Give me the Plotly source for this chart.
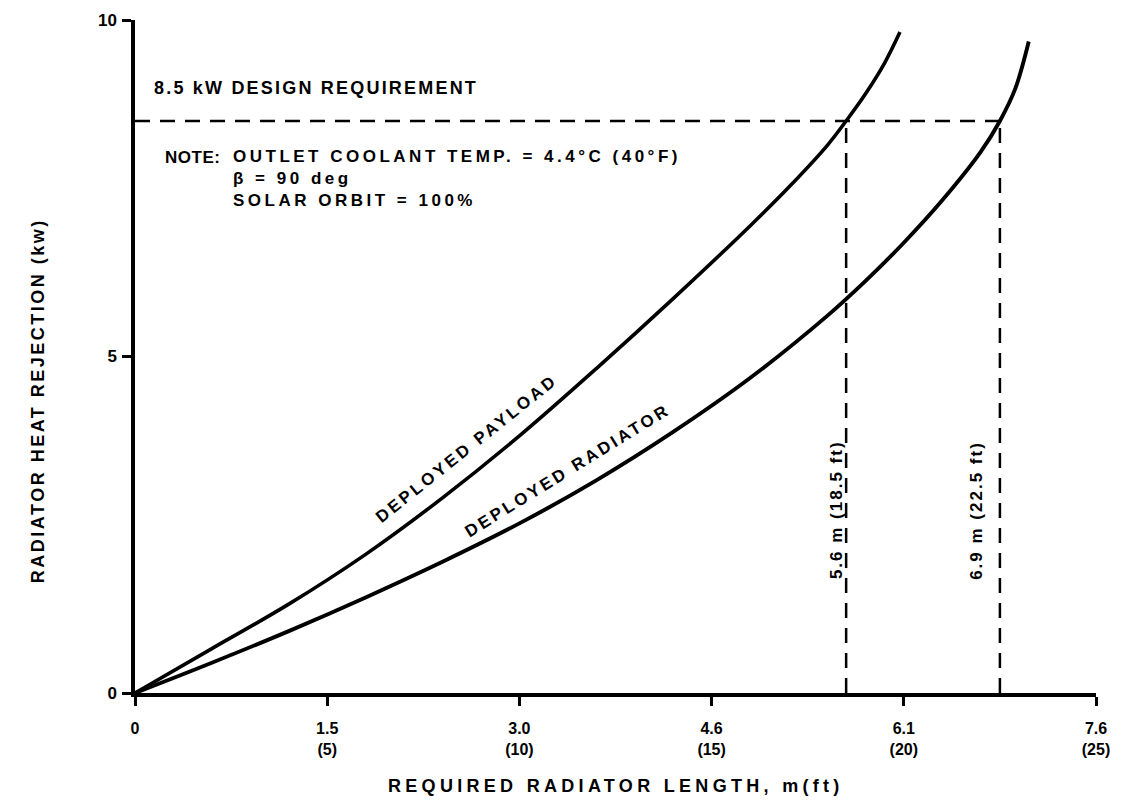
import plotly.graph_objects as go

# Radiator length in feet (axis is labelled in metres with feet in parentheses)
payload_len_ft = [0, 2, 4, 6, 8, 10, 12, 14, 16, 17, 18, 18.5, 19, 19.5, 19.9]
payload_kw = [0, 0.66, 1.32, 2.06, 2.90, 3.82, 4.82, 5.86, 6.94, 7.51, 8.13, 8.50, 8.90, 9.36, 9.82]

radiator_len_ft = [0, 2, 4, 6, 8, 10, 12, 14, 16, 18, 19, 20, 21, 22, 22.5, 22.9, 23.25]
radiator_kw = [0, 0.45, 0.92, 1.42, 1.95, 2.52, 3.16, 3.88, 4.68, 5.60, 6.12, 6.69, 7.32, 8.04, 8.50, 8.98, 9.68]

design_kw = 8.5
payload_req_ft = 18.5
radiator_req_ft = 22.5

x_tick_ft = [0, 5, 10, 15, 20, 25]
x_tick_m = ["0", "1.5", "3.0", "4.6", "6.1", "7.6"]
y_ticks = [0, 5, 10]

FONT = "Liberation Sans, Arial, Helvetica, sans-serif"


def spaced(text, px=3):
    return f'<span style="letter-spacing:{px}px">{text}</span>'


def bold_font(size):
    return dict(family=FONT, size=size, color="black", weight="bold")


x_tick_text = [x_tick_m[0]] + [f"{m}<br>({ft})" for m, ft in zip(x_tick_m[1:], x_tick_ft[1:])]

fig = go.Figure()

dash = "15px,10px"
fig.add_trace(go.Scatter(x=[0, radiator_req_ft], y=[design_kw, design_kw], mode="lines",
                         line=dict(color="black", width=2.5, dash=dash), hoverinfo="skip"))
fig.add_trace(go.Scatter(x=[payload_req_ft, payload_req_ft], y=[0, design_kw], mode="lines",
                         line=dict(color="black", width=2.5, dash=dash), hoverinfo="skip"))
fig.add_trace(go.Scatter(x=[radiator_req_ft, radiator_req_ft], y=[0, design_kw], mode="lines",
                         line=dict(color="black", width=2.5, dash=dash), hoverinfo="skip"))

fig.add_trace(go.Scatter(x=payload_len_ft, y=payload_kw, mode="lines", name="DEPLOYED PAYLOAD",
                         line=dict(color="black", width=3.6, shape="spline", smoothing=1.0)))
fig.add_trace(go.Scatter(x=radiator_len_ft, y=radiator_kw, mode="lines", name="DEPLOYED RADIATOR",
                         line=dict(color="black", width=3.9, shape="spline", smoothing=1.0)))

annotations = [
    dict(x=0.44, y=design_kw, yshift=33, xanchor="left", yanchor="middle",
         text=spaced(f"{design_kw} kW DESIGN REQUIREMENT", 2.2), font=bold_font(18)),
    dict(x=0.73, y=7.96, xanchor="left", yanchor="middle",
         text=spaced("NOTE:", 0.5), font=bold_font(17)),
    dict(x=2.5, y=7.96, xanchor="left", yanchor="top", yshift=12, align="left",
         text=spaced("OUTLET COOLANT TEMP. = 4.4°C (40°F)", 3.5) + "<br>"
         + spaced("β = 90 deg", 3.5) + "<br>" + spaced("SOLAR ORBIT = 100%", 3.5),
         font=bold_font(17)),
    dict(x=8.63, y=3.64, textangle=-38.5, xanchor="center", yanchor="middle",
         text=spaced("DEPLOYED PAYLOAD", 3), font=bold_font(17)),
    dict(x=11.26, y=3.30, textangle=-31.7, xanchor="center", yanchor="middle",
         text=spaced("DEPLOYED RADIATOR", 3), font=bold_font(17)),
    dict(x=payload_req_ft, xshift=-9, y=2.72, textangle=-90, xanchor="center", yanchor="middle",
         text=spaced(f"5.6 m ({payload_req_ft} ft)", 2), font=bold_font(17)),
    dict(x=radiator_req_ft, xshift=-23, y=2.72, textangle=-90, xanchor="center", yanchor="middle",
         text=spaced(f"6.9 m ({radiator_req_ft} ft)", 2), font=bold_font(17)),
    dict(xref="paper", yref="paper", x=0.5, y=-0.138, xanchor="center", yanchor="middle",
         text=spaced("REQUIRED RADIATOR LENGTH, m(ft)", 4.3), font=bold_font(18)),
    dict(xref="paper", yref="paper", x=-0.101, y=0.435, textangle=-90, xanchor="center", yanchor="middle",
         text=spaced("RADIATOR HEAT REJECTION (kw)", 2.5), font=bold_font(18)),
]
for a in annotations:
    a.setdefault("xref", "x")
    a.setdefault("yref", "y")
    a["showarrow"] = False

fig.update_layout(
    width=1124, height=803,
    margin=dict(l=135, r=28, t=20, b=110),
    paper_bgcolor="white", plot_bgcolor="white",
    showlegend=False,
    annotations=annotations,
    xaxis=dict(range=[0, 25], tickvals=x_tick_ft, ticktext=x_tick_text,
               ticks="outside", ticklen=9, tickwidth=2.5, tickcolor="black",
               showline=True, linewidth=3.5, linecolor="black",
               showgrid=False, zeroline=False, tickfont=bold_font(16),
               ticklabelstandoff=9),
    yaxis=dict(range=[0, 10], tickvals=y_ticks,
               ticks="outside", ticklen=9, tickwidth=2.5, tickcolor="black",
               showline=True, linewidth=3.5, linecolor="black",
               showgrid=False, zeroline=False, tickfont=bold_font(17),
               ticklabelstandoff=2),
)

fig.write_html("out.html")
